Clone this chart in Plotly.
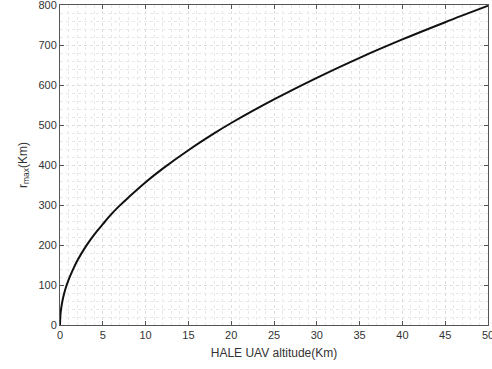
import plotly.graph_objects as go

# Values
altitude_km = [0, 0.05, 0.1, 0.2, 0.3, 0.5, 0.75, 1, 1.5, 2, 3, 4, 5, 6, 7, 8,
               10, 12, 15, 18, 20, 25, 30, 35, 40, 45, 50]
r_max_km = [0, 25, 36, 50, 62, 80, 98, 113, 138, 160, 196, 226, 252, 277, 299, 319,
            357, 391, 437, 479, 505, 564, 618, 668, 714, 757, 798]
x_ticks = [0, 5, 10, 15, 20, 25, 30, 35, 40, 45, 50]
y_ticks = [0, 100, 200, 300, 400, 500, 600, 700, 800]

fig = go.Figure()
fig.add_trace(go.Scatter(x=altitude_km, y=r_max_km, mode="lines",
                         line=dict(color="#111111", width=2, shape="spline", smoothing=1.0),
                         showlegend=False))

axis_common = dict(
    showline=True, linecolor="#555555", linewidth=1, mirror="ticks",
    ticks="inside", ticklen=4, tickcolor="#555555",
    showgrid=True, gridcolor="#dddddd", griddash="dot", gridwidth=1,
    zeroline=False, ticklabeloverflow="allow", automargin=False,
    tickfont=dict(family="Liberation Sans, Arial", size=11, color="#333333"),
)

fig.update_xaxes(range=[0, 50], tickvals=x_ticks,
                 minor=dict(dtick=1, showgrid=True, gridcolor="#e8e8e8", griddash="dot", ticks=""),
                 title=dict(text="HALE UAV altitude(Km)", standoff=8,
                            font=dict(family="Liberation Sans, Arial", size=12, color="#333333")),
                 **axis_common)
fig.update_yaxes(range=[0, 800], tickvals=y_ticks,
                 minor=dict(dtick=20, showgrid=True, gridcolor="#e8e8e8", griddash="dot", ticks=""),
                 title=dict(text="r<sub>max</sub>(Km)", standoff=8,
                            font=dict(family="Liberation Sans, Arial", size=12, color="#333333")),
                 **axis_common)

fig.update_layout(width=492, height=369, margin=dict(l=60, r=4, t=5, b=44),
                  paper_bgcolor="white", plot_bgcolor="white")
fig.write_html("out.html")
